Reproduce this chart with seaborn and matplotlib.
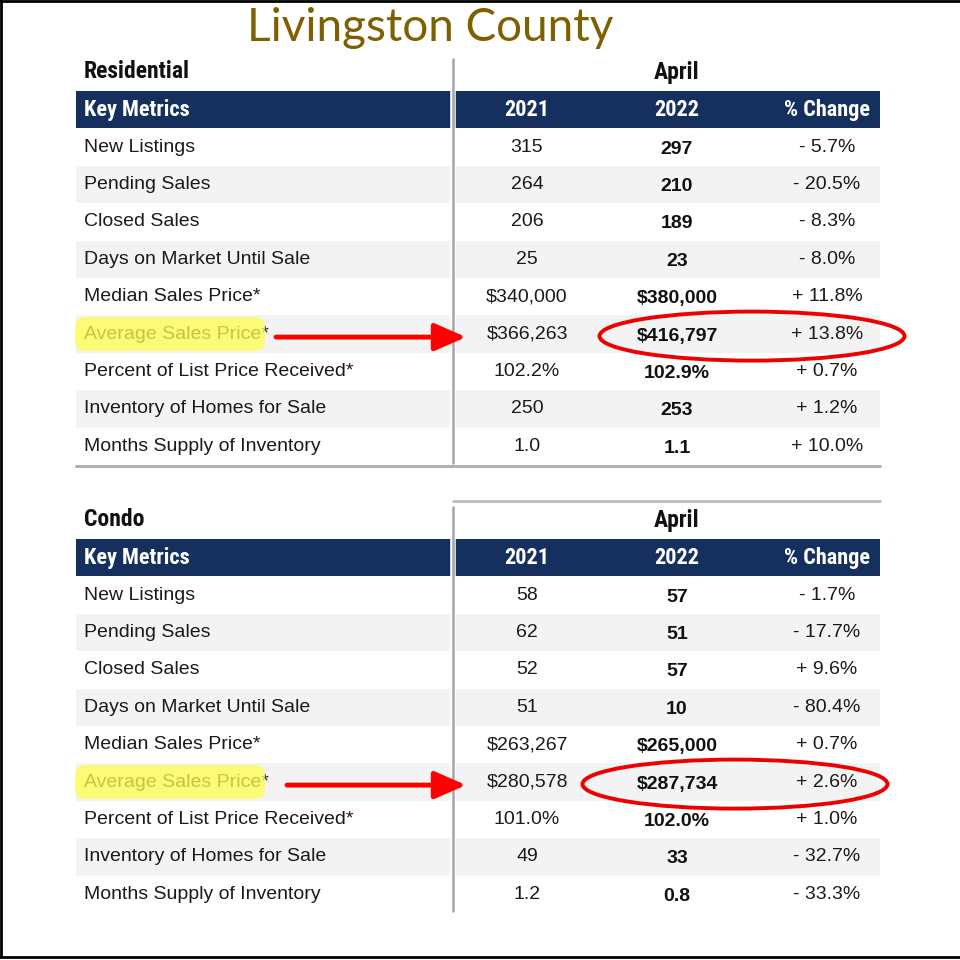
import numpy as np
import pandas as pd
import matplotlib
matplotlib.use('Agg')
import matplotlib.pyplot as plt
import seaborn as sns
from matplotlib.colors import ListedColormap
from matplotlib.patches import Ellipse, FancyBboxPatch

# data
metrics = ['New Listings', 'Pending Sales', 'Closed Sales', 'Days on Market Until Sale',
           'Median Sales Price*', 'Average Sales Price*', 'Percent of List Price Received*',
           'Inventory of Homes for Sale', 'Months Supply of Inventory']
fmts = ['{:,.0f}', '{:,.0f}', '{:,.0f}', '{:,.0f}', '${:,.0f}', '${:,.0f}', '{:.1f}%', '{:,.0f}', '{:.1f}']

res_2021 = [315, 264, 206, 25, 340000, 366263, 102.2, 250, 1.0]
res_2022 = [297, 210, 189, 23, 380000, 416797, 102.9, 253, 1.1]
res_change = [-5.7, -20.5, -8.3, -8.0, 11.8, 13.8, 0.7, 1.2, 10.0]

condo_2021 = [58, 62, 52, 51, 263267, 280578, 101.0, 49, 1.2]
condo_2022 = [57, 51, 57, 10, 265000, 287734, 102.0, 33, 0.8]
condo_change = [-1.7, -17.7, 9.6, -80.4, 0.7, 2.6, 1.0, -32.7, -33.3]

col_labels = ['Key Metrics', '2021', '2022', '% Change']
period = 'April'
title = 'Livingston County'

NAVY = '#15305f'
STRIPE = '#f3f3f3'
W = H = 960
sns.set_theme(style='white')
plt.rcParams['font.family'] = ['Liberation Sans', 'DejaVu Sans']
narrow = ['Roboto Condensed', 'DejaVu Sans']

fig = plt.figure(figsize=(9.6, 9.6), dpi=100)

left, right = 76, 880
row_h = 37.4
sep_x = 453
col_x = [84, 527, 677, 827]


def fmt_change(v):
    return ('+ ' if v >= 0 else '- ') + '{:.1f}%'.format(abs(v))


def draw_table(ax, name, top, v21, v22, chg, top_rule):
    n = len(metrics)
    # header row (2) + alternating stripes (0/1) drawn as a heatmap
    pattern = [2] + [i % 2 for i in range(n)]
    grid = pd.DataFrame(np.array(pattern)[:, None])
    hax = fig.add_axes([left / W, 1 - (top + row_h * (n + 1)) / H,
                        (right - left) / W, row_h * (n + 1) / H], zorder=0)
    sns.heatmap(grid, ax=hax, cmap=ListedColormap(['white', STRIPE, NAVY]),
                vmin=0, vmax=2, cbar=False, xticklabels=False, yticklabels=False)
    hax.axis('off')

    bottom = top + row_h * (n + 1)
    ax.text(col_x[0], top - 20, name, fontsize=17, fontweight='bold', family=narrow,
            fontstretch='condensed', ha='left', va='center', color='#111111')
    ax.text(col_x[2], top - 19, period, fontsize=17, fontweight='bold', family=narrow,
            fontstretch='condensed', ha='center', va='center', color='#111111')
    hy = top + row_h / 2
    for j, lab in enumerate(col_labels):
        ha = 'left' if j == 0 else 'center'
        ax.text(col_x[j], hy, lab, fontsize=16, fontweight='bold', family=narrow,
                fontstretch='condensed', ha=ha, va='center', color='white')
    for i in range(n):
        y = top + row_h * (i + 1.5)
        ax.text(col_x[0], y, metrics[i], fontsize=14, ha='left', va='center', color='#1a1a1a')
        ax.text(col_x[1], y, fmts[i].format(v21[i]), fontsize=14, ha='center', va='center',
                color='#1a1a1a')
        ax.text(col_x[2], y + 2, fmts[i].format(v22[i]), fontsize=14, fontweight='bold',
                ha='center', va='center', color='#111111')
        ax.text(col_x[3], y, fmt_change(chg[i]), fontsize=14, ha='center', va='center',
                color='#1a1a1a')
    # vertical separator
    ax.plot([sep_x, sep_x], [top - 32, bottom - 8], color='white', lw=4,
            solid_capstyle='butt', zorder=2)
    ax.plot([sep_x, sep_x], [top - 32, bottom - 2], color='#a5a5a5', lw=1.8, zorder=3)
    if top_rule:
        ax.plot([sep_x, right], [top - 38, top - 38], color='#b5b5b5', lw=1.8)
    return bottom


ax = fig.add_axes([0, 0, 1, 1], zorder=5)
ax.set_xlim(0, W)
ax.set_ylim(H, 0)
ax.axis('off')
ax.patch.set_alpha(0)

ax.text(430, 28, title, fontsize=33, family=['Lato', 'DejaVu Sans'], color='#7f6000',
        ha='center', va='center')

res_bottom = draw_table(ax, 'Residential', 91, res_2021, res_2022, res_change, False)
ax.plot([left, right], [res_bottom + 1, res_bottom + 1], color='#b0b0b0', lw=2.2)
condo_top = 539
draw_table(ax, 'Condo', condo_top, condo_2021, condo_2022, condo_change, True)

# highlight, arrow and ellipse on the Average Sales Price row
avg = metrics.index('Average Sales Price*')
for top, arrow_x0, ell_x in [(91, 276, 752), (condo_top, 287, 735)]:
    y = top + row_h * (avg + 1.5)
    ax.add_patch(FancyBboxPatch((78, y - 14), 184, 28, boxstyle='round,pad=3,rounding_size=10',
                                fc='#ffff4d', ec='none', alpha=0.75, zorder=6))
    ax.annotate('', xy=(466, y + 3), xytext=(arrow_x0, y + 3),
                arrowprops=dict(arrowstyle='-|>,head_length=1.6,head_width=0.7',
                                color='#ff0000', lw=3.5, shrinkA=0, shrinkB=0), zorder=7)
    ax.add_patch(Ellipse((ell_x, y + 2), 305, 49, fc='none', ec='#ee0000', lw=2.8, zorder=7))

# frame lines (top, left, bottom)
ax.plot([0, W], [1, 1], color='black', lw=2)
ax.plot([1, 1], [0, 957], color='black', lw=2)
ax.plot([0, W], [957, 957], color='black', lw=2)

fig.savefig('out.png', dpi=100)
